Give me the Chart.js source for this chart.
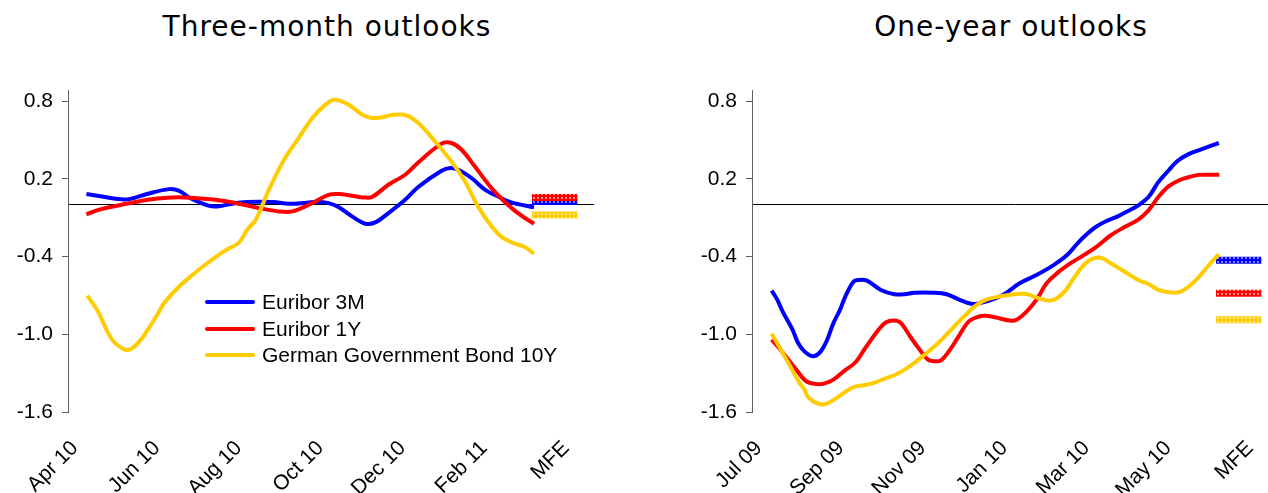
<!DOCTYPE html>
<html>
<head>
<meta charset="utf-8">
<script src="https://cdn.jsdelivr.net/npm/chart.js@4"></script>
<style>
  html,body{margin:0;padding:0;background:#fff;overflow:hidden}
  body{width:1268px;height:493px;position:relative;font-family:'Liberation Sans',Arial,sans-serif}
  .box{position:absolute;top:0;width:600px;height:493px}
  .ttl{position:absolute;top:11px;font:28px 'DejaVu Sans',Verdana,sans-serif;letter-spacing:1px;color:#000;transform:translateX(-50%);white-space:nowrap;line-height:32px}
  .lg{position:absolute;left:205px;top:289px;font-size:21px;line-height:26.5px;color:#000}
  .lg div{white-space:nowrap}
  .lg i{display:inline-block;width:50px;height:4px;border-radius:2px;vertical-align:middle;margin-right:7px;position:relative;top:-1px}
</style>
</head>
<body>
<div class="ttl" style="left:327px">Three-month outlooks</div>
<div class="ttl" style="left:1011px">One-year outlooks</div>
<div class="box" style="left:0"><canvas id="c-three" width="600" height="493"></canvas></div>
<div class="box" style="left:684px"><canvas id="c-one" width="600" height="493"></canvas></div>
<div class="lg">
  <div><i style="background:#0000FF"></i>Euribor 3M</div>
  <div><i style="background:#FF0000"></i>Euribor 1Y</div>
  <div><i style="background:#FFCC00"></i>German Government Bond 10Y</div>
</div>
<script>
/* 데이터: [월(축 시작부터), 값] — x축 눈금은 2개월 간격 */
const Q_XLABELS = ['Apr 10','Jun 10','Aug 10','Oct 10','Dec 10','Feb 11','MFE'];
const O_XLABELS = ['Jul 09','Sep 09','Nov 09','Jan 10','Mar 10','May 10','MFE'];
const Y_TICKS   = [-1.6,-1.0,-0.4,0,0.2,0.8];
const X_MAX = 12.86;
const MFE_SPAN = [11.34, 12.45];
const LABEL_SHIFT = 0.17;   // 라벨 끝이 눈금보다 살짝 오른쪽

/* Three-month outlooks */
const Q_EUR3M = [[0.45,0.083],[1.22,0.043],[1.50,0.043],[1.95,0.084],[2.47,0.12],[2.72,0.107],[2.96,0.056],[3.41,-0.005],[3.65,-0.014],[3.97,0.005],[4.38,0.02],[5.0,0.02],[5.48,0.007],[6.05,0.02],[6.37,0.012],[6.62,-0.019],[6.94,-0.09],[7.27,-0.147],[7.51,-0.137],[7.83,-0.065],[8.24,0.038],[8.56,0.136],[9.13,0.262],[9.34,0.283],[9.54,0.27],[9.86,0.206],[10.19,0.116],[10.51,0.063],[10.83,0.018],[11.39,-0.021]];
const Q_EUR1Y = [[0.45,-0.075],[0.81,-0.034],[1.46,0.009],[1.95,0.038],[2.43,0.054],[2.84,0.056],[3.41,0.043],[3.89,0.025],[4.38,-0.006],[4.67,-0.026],[5.16,-0.052],[5.48,-0.052],[5.89,0.0],[6.37,0.076],[6.62,0.082],[6.94,0.069],[7.23,0.056],[7.43,0.059],[7.83,0.154],[8.24,0.231],[8.56,0.326],[9.13,0.471],[9.37,0.476],[9.62,0.424],[9.94,0.296],[10.35,0.128],[10.75,0.0],[11.08,-0.085],[11.39,-0.147]];
const Q_BUND10Y = [[0.47,-0.702],[0.73,-0.823],[1.05,-1.029],[1.34,-1.111],[1.54,-1.114],[1.78,-1.042],[1.87,-1.003],[2.03,-0.926],[2.23,-0.823],[2.35,-0.759],[2.68,-0.643],[3.0,-0.553],[3.41,-0.45],[3.81,-0.36],[4.18,-0.291],[4.38,-0.193],[4.59,-0.116],[4.91,0.116],[5.28,0.347],[5.64,0.515],[5.97,0.668],[6.29,0.772],[6.52,0.81],[6.86,0.772],[7.19,0.694],[7.43,0.669],[7.67,0.674],[7.91,0.692],[8.24,0.692],[8.56,0.63],[8.97,0.488],[9.37,0.334],[9.70,0.18],[10.02,-0.013],[10.35,-0.167],[10.63,-0.257],[10.92,-0.301],[11.16,-0.326],[11.39,-0.378]];
const Q_MFE = {eur3m:0.025, eur1y:0.056, bund:-0.08};

/* One-year outlooks */
const O_EUR3M = [[0.48,-0.663],[0.62,-0.735],[0.75,-0.825],[0.99,-0.965],[1.12,-1.063],[1.28,-1.132],[1.49,-1.17],[1.66,-1.14],[1.82,-1.055],[1.99,-0.914],[2.15,-0.812],[2.28,-0.709],[2.48,-0.594],[2.61,-0.581],[2.81,-0.586],[3.15,-0.658],[3.48,-0.691],[3.73,-0.691],[3.97,-0.679],[4.47,-0.679],[4.76,-0.691],[5.05,-0.73],[5.38,-0.766],[5.71,-0.748],[6.13,-0.697],[6.54,-0.607],[6.95,-0.543],[7.37,-0.466],[7.70,-0.389],[7.95,-0.30],[8.20,-0.223],[8.40,-0.172],[8.65,-0.128],[8.94,-0.09],[9.19,-0.049],[9.44,-0.005],[9.69,0.059],[9.93,0.174],[10.18,0.264],[10.39,0.335],[10.68,0.392],[11.01,0.43],[11.41,0.476]];
const O_EUR1Y = [[0.48,-1.042],[0.75,-1.14],[1.08,-1.273],[1.32,-1.362],[1.53,-1.383],[1.74,-1.383],[1.99,-1.35],[2.24,-1.286],[2.53,-1.216],[2.77,-1.106],[3.06,-0.978],[3.27,-0.909],[3.48,-0.894],[3.64,-0.914],[3.89,-1.029],[4.10,-1.119],[4.30,-1.196],[4.51,-1.209],[4.64,-1.196],[4.84,-1.119],[5.05,-1.017],[5.30,-0.901],[5.55,-0.863],[5.71,-0.858],[6.04,-0.876],[6.29,-0.894],[6.46,-0.889],[6.71,-0.825],[6.95,-0.735],[7.20,-0.607],[7.45,-0.53],[7.78,-0.453],[8.11,-0.389],[8.44,-0.32],[8.77,-0.236],[9.11,-0.172],[9.44,-0.115],[9.69,-0.044],[9.93,0.059],[10.18,0.141],[10.43,0.187],[10.68,0.213],[10.93,0.23],[11.42,0.23]];
const O_BUND10Y = [[0.48,-0.996],[0.66,-1.093],[0.91,-1.234],[1.16,-1.375],[1.28,-1.426],[1.37,-1.485],[1.53,-1.524],[1.72,-1.542],[1.90,-1.524],[2.19,-1.465],[2.48,-1.408],[2.73,-1.393],[2.98,-1.375],[3.23,-1.344],[3.48,-1.316],[3.73,-1.273],[3.97,-1.221],[4.22,-1.157],[4.55,-1.068],[4.88,-0.96],[5.22,-0.85],[5.46,-0.781],[5.71,-0.735],[6.04,-0.709],[6.46,-0.689],[6.71,-0.689],[6.95,-0.717],[7.28,-0.74],[7.45,-0.722],[7.66,-0.663],[7.86,-0.569],[8.07,-0.479],[8.28,-0.423],[8.53,-0.41],[8.77,-0.453],[9.11,-0.517],[9.44,-0.581],[9.69,-0.612],[9.93,-0.658],[10.18,-0.676],[10.43,-0.676],[10.64,-0.64],[10.89,-0.569],[11.13,-0.479],[11.41,-0.382]];
const O_MFE = {eur3m:-0.428, eur1y:-0.684, bund:-0.889};

const COL = {eur3m:'#0000FF', eur1y:'#FF0000', bund:'#FFCC00'};
const LIGHT = {eur3m:'#8080FF', eur1y:'#FF9090', bund:'#FFE680'};

/* MFE 막대용 체크 무늬 */
function checker(key){
  const t = document.createElement('canvas'); t.width = 4; t.height = 4;
  const g = t.getContext('2d');
  g.fillStyle = COL[key]; g.fillRect(0,0,4,4);
  g.fillStyle = LIGHT[key]; g.fillRect(1,1,2,2);
  return g.createPattern(t,'repeat');
}

function line(pairs, key, order){
  return {data:pairs.map(p=>({x:p[0],y:p[1]})), borderColor:COL[key], borderWidth:4,
          tension:.35, pointRadius:0, fill:false, order};
}
function mfe(v, key, order){
  return {data:MFE_SPAN.map(x=>({x,y:v})), borderColor:checker(key), borderWidth:7,
          borderCapStyle:'butt', pointRadius:0, fill:false, order};
}

function mkChart(id, s3m, s1y, sBund, m, xLabels){
  new Chart(document.getElementById(id),{
    type:'line',
    data:{datasets:[
      mfe(m.eur3m,'eur3m',6), mfe(m.eur1y,'eur1y',5), mfe(m.bund,'bund',4),
      line(s3m,'eur3m',3), line(s1y,'eur1y',2), line(sBund,'bund',1)
    ]},
    options:{
      responsive:false, animation:false,
      layout:{padding:{top:90,right:4,left:0,bottom:0}},
      plugins:{legend:{display:false},tooltip:{enabled:false}},
      scales:{
        x:{type:'linear', min:0, max:X_MAX,
           afterBuildTicks:s=>{ s.ticks = xLabels.map((_,i)=>({value:i*2+LABEL_SHIFT})); },
           afterFit:s=>{ s.height = 81; },
           ticks:{autoSkip:false, minRotation:45, maxRotation:45, padding:16,
                  font:{size:21}, color:'#000', callback:(v,i)=>xLabels[i]},
           grid:{display:false}, border:{display:false}},
        y:{min:-1.6, max:0.885,
           afterBuildTicks:s=>{ s.ticks = Y_TICKS.map(v=>({value:v})); },
           afterFit:s=>{ s.width = 68; },
           ticks:{padding:9, font:{size:21}, color:'#000',
                  callback:v=> v===0 ? '' : v.toFixed(1)},
           grid:{color:c=> c.tick && c.tick.value===0 ? '#000' : 'rgba(0,0,0,0)',
                 tickColor:c=> c.tick && c.tick.value===0 ? 'rgba(0,0,0,0)' : '#606060',
                 tickLength:6},
           border:{display:true, color:'#606060'}}
      }
    }
  });
}

Chart.defaults.font.family = "'Liberation Sans',Arial,sans-serif";
mkChart('c-three', Q_EUR3M, Q_EUR1Y, Q_BUND10Y, Q_MFE, Q_XLABELS);
mkChart('c-one',   O_EUR3M, O_EUR1Y, O_BUND10Y, O_MFE, O_XLABELS);
</script>
</body>
</html>
